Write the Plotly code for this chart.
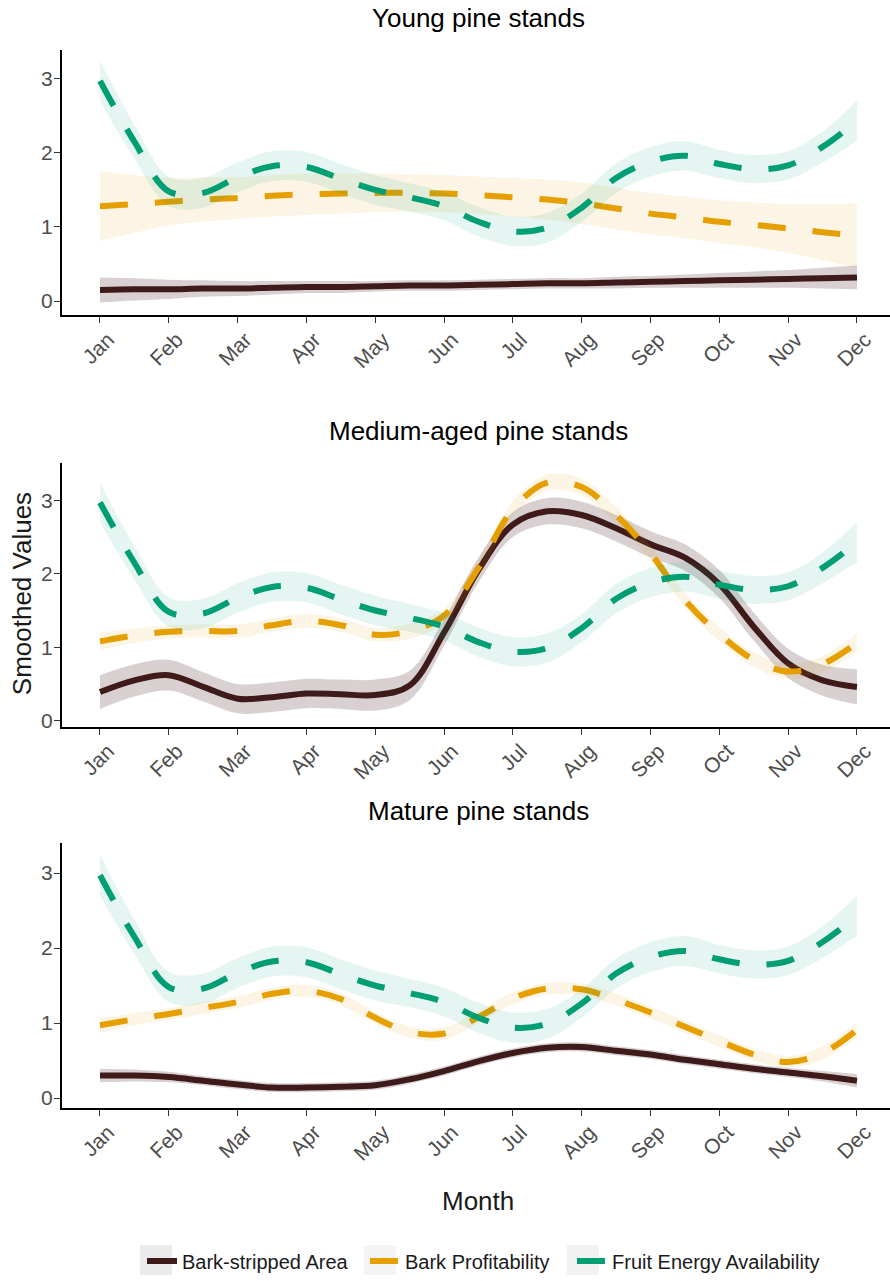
import plotly.graph_objects as go

# ---------------- data ----------------
months = [1, 1.5, 2, 2.5, 3, 3.5, 4, 4.5, 5, 5.5, 6, 6.5, 7, 7.5, 8, 8.5, 9, 9.5, 10, 10.5, 11, 11.5, 12]
month_ticks = [1, 2, 3, 4, 5, 6, 7, 8, 9, 10, 11, 12]
month_labels = ["Jan", "Feb", "Mar", "Apr", "May", "Jun", "Jul", "Aug", "Sep", "Oct", "Nov", "Dec"]

panel_titles = ["Young pine stands", "Medium-aged pine stands", "Mature pine stands"]
series_names = ["Bark-stripped Area", "Bark Profitability", "Fruit Energy Availability"]

# Fruit energy availability (same in all stands)
fruit_fit = [2.97, 2.15, 1.48, 1.46, 1.67, 1.82, 1.81, 1.65, 1.5, 1.4, 1.28, 1.07, 0.94, 0.99,
             1.26, 1.66, 1.88, 1.96, 1.85, 1.78, 1.83, 2.08, 2.43]
fruit_band = [0.27, 0.23, 0.2, 0.2, 0.2, 0.2, 0.2, 0.2, 0.2, 0.19, 0.19, 0.2, 0.2, 0.2,
              0.19, 0.2, 0.2, 0.2, 0.19, 0.19, 0.19, 0.21, 0.27]

# Young stands
young_bark_fit = [0.15, 0.16, 0.16, 0.17, 0.17, 0.18, 0.19, 0.19, 0.2, 0.21, 0.21, 0.22, 0.23, 0.24,
                  0.24, 0.25, 0.26, 0.27, 0.28, 0.29, 0.3, 0.31, 0.32]
young_bark_band = [0.17, 0.15, 0.13, 0.11, 0.1, 0.09, 0.08, 0.08, 0.07, 0.07, 0.07, 0.07, 0.07, 0.07,
                   0.07, 0.08, 0.08, 0.09, 0.1, 0.11, 0.12, 0.14, 0.16]
young_prof_fit = [1.28, 1.31, 1.34, 1.37, 1.39, 1.42, 1.44, 1.45, 1.46, 1.46, 1.45, 1.43, 1.4, 1.37,
                  1.32, 1.25, 1.18, 1.13, 1.07, 1.03, 0.98, 0.93, 0.88]
young_prof_band = [0.47, 0.39, 0.32, 0.3, 0.28, 0.28, 0.28, 0.27, 0.26, 0.25, 0.25, 0.25, 0.26, 0.27,
                   0.28, 0.28, 0.28, 0.28, 0.29, 0.3, 0.33, 0.38, 0.44]

# Medium-aged stands
medium_bark_fit = [0.39, 0.55, 0.62, 0.46, 0.3, 0.32, 0.37, 0.36, 0.35, 0.48, 1.2, 2.05, 2.67, 2.85,
                   2.8, 2.62, 2.4, 2.22, 1.86, 1.28, 0.78, 0.55, 0.46]
medium_bark_band = [0.23, 0.22, 0.21, 0.2, 0.2, 0.2, 0.2, 0.2, 0.21, 0.2, 0.18, 0.17, 0.17, 0.18,
                    0.18, 0.18, 0.18, 0.18, 0.19, 0.19, 0.2, 0.21, 0.24]
medium_prof_fit = [1.08, 1.16, 1.21, 1.22, 1.22, 1.3, 1.36, 1.3, 1.17, 1.22, 1.43, 2.08, 2.88, 3.24,
                   3.18, 2.8, 2.28, 1.64, 1.18, 0.83, 0.67, 0.77, 1.06]
medium_prof_band = [0.12, 0.1, 0.09, 0.09, 0.09, 0.09, 0.09, 0.09, 0.09, 0.1, 0.1, 0.11, 0.11, 0.11,
                    0.11, 0.11, 0.1, 0.1, 0.1, 0.1, 0.1, 0.11, 0.13]

# Mature stands
mature_bark_fit = [0.3, 0.3, 0.28, 0.23, 0.18, 0.14, 0.14, 0.15, 0.17, 0.25, 0.36, 0.49, 0.6, 0.67,
                   0.68, 0.63, 0.58, 0.51, 0.45, 0.39, 0.34, 0.29, 0.23]
mature_bark_band = [0.09, 0.08, 0.07, 0.06, 0.06, 0.06, 0.06, 0.06, 0.06, 0.06, 0.06, 0.06, 0.06, 0.06,
                    0.06, 0.06, 0.06, 0.06, 0.06, 0.06, 0.06, 0.07, 0.09]
mature_prof_fit = [0.97, 1.05, 1.12, 1.2, 1.28, 1.39, 1.43, 1.32, 1.07, 0.88, 0.86, 1.08, 1.33, 1.46,
                   1.45, 1.31, 1.14, 0.95, 0.76, 0.58, 0.48, 0.6, 0.91]
mature_prof_band = [0.1, 0.08, 0.08, 0.08, 0.08, 0.08, 0.08, 0.08, 0.08, 0.08, 0.08, 0.08, 0.08, 0.08,
                    0.08, 0.08, 0.08, 0.08, 0.08, 0.08, 0.08, 0.09, 0.1]

y_ticks = [0, 1, 2, 3]

# ---------------- style ----------------
line_colors = ["#3F1A1A", "#E69F00", "#009E73"]
fill_colors = ["rgba(63,26,26,0.2)", "rgba(230,159,0,0.1)", "rgba(0,158,115,0.1)"]
key_fills = ["#EBEBEB", "#F4F4F4", "#F2F2F2"]
dashes = ["solid", "28px,27px", "28px,27px"]
legend_ids = ["legend", "legend2", "legend3"]
FONT = "Liberation Sans, Arial, sans-serif"

panels = [
    [(young_bark_fit, young_bark_band), (young_prof_fit, young_prof_band), (fruit_fit, fruit_band)],
    [(medium_bark_fit, medium_bark_band), (medium_prof_fit, medium_prof_band), (fruit_fit, fruit_band)],
    [(mature_bark_fit, mature_bark_band), (mature_prof_fit, mature_prof_band), (fruit_fit, fruit_band)],
]

H = 1281.0
W = 890.0
panel_px = [(50, 316.7), (465, 730), (847, 1113)]
y_ranges = [[-0.19, 3.39], [-0.08, 3.51], [-0.13, 3.40]]
x_range = [0.448, 12.48]

fig = go.Figure()

for p, series in enumerate(panels):
    xa = "x" if p == 0 else f"x{p+1}"
    ya = "y" if p == 0 else f"y{p+1}"
    for s, (fit, band) in enumerate(series):
        lower = [f - b for f, b in zip(fit, band)]
        upper = [f + b for f, b in zip(fit, band)]
        fig.add_trace(go.Scatter(x=months, y=lower, mode="lines", line=dict(width=0, shape="spline"),
                                 xaxis=xa, yaxis=ya, showlegend=False, hoverinfo="skip"))
        fig.add_trace(go.Scatter(x=months, y=upper, mode="lines", line=dict(width=0, shape="spline"),
                                 fill="tonexty", fillcolor=fill_colors[s],
                                 xaxis=xa, yaxis=ya, showlegend=False, hoverinfo="skip"))
        fig.add_trace(go.Scatter(x=months, y=fit, mode="lines", name=series_names[s],
                                 line=dict(color=line_colors[s], width=6, dash=dashes[s], shape="spline"),
                                 xaxis=xa, yaxis=ya, showlegend=(p == 0), legendgroup=series_names[s],
                                 legend=legend_ids[s]))

layout = dict(
    width=890, height=1281,
    margin=dict(l=0, r=0, t=0, b=0),
    paper_bgcolor="white", plot_bgcolor="white",
    font=dict(family=FONT, size=21, color="#1A1A1A"),
    showlegend=True,
)

# one legend box per key, placed like ggplot's bottom legend
legend_left_px = [142, 365, 572]
for i, lid in enumerate(legend_ids):
    layout[lid] = dict(orientation="h", x=legend_left_px[i] / W, xanchor="left",
                       y=1 - 1267 / H, yanchor="middle",
                       font=dict(family=FONT, size=20, color="#1A1A1A"),
                       itemwidth=30, bgcolor="rgba(0,0,0,0)")

annotations = []
for p in range(3):
    top, bot = panel_px[p]
    dom = [1 - bot / H, 1 - top / H]
    xkey = "xaxis" if p == 0 else f"xaxis{p+1}"
    ykey = "yaxis" if p == 0 else f"yaxis{p+1}"
    layout[xkey] = dict(
        domain=[62 / W, 1.0], range=x_range, anchor="y" if p == 0 else f"y{p+1}",
        tickmode="array", tickvals=month_ticks, ticktext=month_labels, tickangle=-45,
        ticks="outside", ticklen=6, tickwidth=1.2, tickcolor="#333333",
        ticklabelshift=8, ticklabelstandoff=-4,
        showline=True, linecolor="black", linewidth=2, showgrid=False, zeroline=False,
        tickfont=dict(family=FONT, size=21, color="#4D4D4D"), automargin=False,
    )
    layout[ykey] = dict(
        domain=dom, range=y_ranges[p], anchor="x" if p == 0 else f"x{p+1}",
        tickmode="array", tickvals=y_ticks, ticks="outside", ticklen=6, tickwidth=1.2,
        tickcolor="#333333", showline=True, linecolor="black", linewidth=2,
        showgrid=False, zeroline=False, ticklabelstandoff=-3,
        tickfont=dict(family=FONT, size=21, color="#4D4D4D"), automargin=False,
    )
    annotations.append(dict(text=panel_titles[p], xref="paper", yref="paper",
                            x=478 / W, y=1 - (top - 32) / H, xanchor="center", yanchor="middle",
                            showarrow=False, font=dict(family=FONT, size=26, color="black")))

annotations.append(dict(text="Smoothed Values", xref="paper", yref="paper", x=22 / W, y=1 - 597 / H,
                        xanchor="center", yanchor="middle", textangle=-90, showarrow=False,
                        font=dict(family=FONT, size=26, color="#1A1A1A")))
annotations.append(dict(text="Month", xref="paper", yref="paper", x=478 / W, y=1 - 1207 / H,
                        xanchor="center", yanchor="middle", showarrow=False,
                        font=dict(family=FONT, size=26, color="#1A1A1A")))
layout["annotations"] = annotations

# legend key backgrounds (ggplot-style grey key boxes)
key_px = [(140, 172), (364, 396), (567, 599)]
layout["shapes"] = [dict(type="rect", xref="paper", yref="paper", layer="below",
                         x0=a / W, x1=b / W, y0=0, y1=1 - 1251 / H,
                         fillcolor=key_fills[i], line=dict(width=0))
                    for i, (a, b) in enumerate(key_px)]

fig.update_layout(**layout)
fig.write_html("out.html")
